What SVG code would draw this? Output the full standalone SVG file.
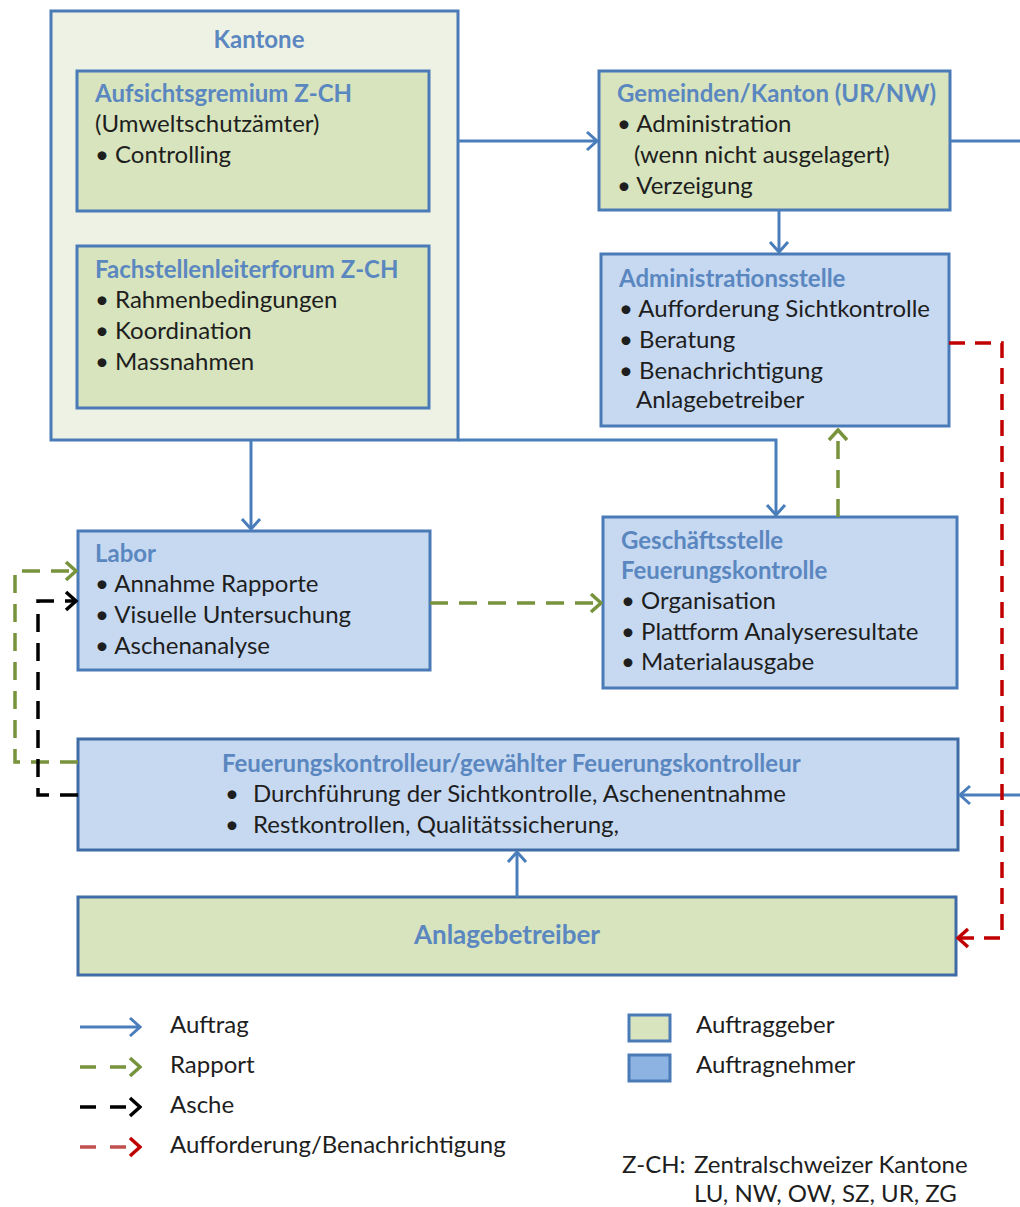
<svg xmlns="http://www.w3.org/2000/svg" width="1020" height="1207" viewBox="0 0 1020 1207">
<style>
.t{font-family:Lato,"Liberation Sans",sans-serif;font-size:24px;fill:#1e1e1e}
.h{font-family:Lato,"Liberation Sans",sans-serif;font-size:24px;font-weight:bold;fill:#5b87c0}
.g{fill:#d7e4bd;stroke:#4a7bb7;stroke-width:3}
.b{fill:#c6d9f1;stroke:#4a7bb7;stroke-width:3}
.blue{fill:none;stroke:#4a7ebb;stroke-width:3}
.green{fill:none;stroke:#77933c;stroke-width:3.5;stroke-dasharray:18 11}
.black{fill:none;stroke:#000;stroke-width:3.5;stroke-dasharray:18 11}
.red{fill:none;stroke:#c00000;stroke-width:3.5;stroke-dasharray:16 10}
</style>
<defs>
<marker id="ab" viewBox="0 0 14 22" refX="12" refY="11" markerWidth="14" markerHeight="22" markerUnits="userSpaceOnUse" orient="auto"><path d="M2,2 L12,11 L2,20" fill="none" stroke="#4a7ebb" stroke-width="3"/></marker>
<marker id="ag" viewBox="0 0 14 22" refX="12" refY="11" markerWidth="14" markerHeight="22" markerUnits="userSpaceOnUse" orient="auto"><path d="M2,2 L12,11 L2,20" fill="none" stroke="#77933c" stroke-width="3.5"/></marker>
<marker id="ak" viewBox="0 0 14 22" refX="12" refY="11" markerWidth="14" markerHeight="22" markerUnits="userSpaceOnUse" orient="auto"><path d="M2,2 L12,11 L2,20" fill="none" stroke="#000" stroke-width="3.5"/></marker>
<marker id="ar" viewBox="0 0 14 22" refX="12" refY="11" markerWidth="14" markerHeight="22" markerUnits="userSpaceOnUse" orient="auto"><path d="M2,2 L12,11 L2,20" fill="none" stroke="#c00000" stroke-width="3.5"/></marker>
</defs>
<rect width="1020" height="1207" fill="#fff"/>

<g id="kantone">
<rect x="51" y="11" width="407" height="429" fill="#eef2e4" stroke="#4a7bb7" stroke-width="3"/>
<text class="h" x="259" y="48" text-anchor="middle">Kantone</text>
</g>
<g id="aufsichtsgremium">
<rect class="g" x="77" y="71" width="352" height="140"/>
<text class="h" x="95" y="102">Aufsichtsgremium Z-CH</text>
<text class="t" x="95" y="132">(Umweltschutzämter)</text>
<text class="t" x="95" y="163">• Controlling</text>
</g>
<g id="fachstellenleiterforum">
<rect class="g" x="77" y="246" width="352" height="162"/>
<text class="h" x="95" y="278">Fachstellenleiterforum Z-CH</text>
<text class="t" x="95" y="308">• Rahmenbedingungen</text>
<text class="t" x="95" y="339">• Koordination</text>
<text class="t" x="95" y="370">• Massnahmen</text>
</g>
<g id="gemeinden">
<rect class="g" x="599" y="71" width="351" height="139"/>
<text class="h" x="617" y="102">Gemeinden/Kanton (UR/NW)</text>
<text class="t" x="617" y="132">• Administration</text>
<text class="t" x="634" y="163">(wenn nicht ausgelagert)</text>
<text class="t" x="617" y="194">• Verzeigung</text>
</g>
<g id="administrationsstelle">
<rect class="b" x="601" y="254" width="348" height="172"/>
<text class="h" x="619" y="287">Administrationsstelle</text>
<text class="t" x="619" y="317">• Aufforderung Sichtkontrolle</text>
<text class="t" x="619" y="348">• Beratung</text>
<text class="t" x="619" y="379">• Benachrichtigung</text>
<text class="t" x="636" y="408">Anlagebetreiber</text>
</g>
<g id="labor">
<rect class="b" x="78" y="531" width="352" height="139"/>
<text class="h" x="95" y="562">Labor</text>
<text class="t" x="95" y="592">• Annahme Rapporte</text>
<text class="t" x="95" y="623">• Visuelle Untersuchung</text>
<text class="t" x="95" y="654">• Aschenanalyse</text>
</g>
<g id="geschaeftsstelle">
<rect class="b" x="603" y="517" width="354" height="171"/>
<text class="h" x="621" y="549">Geschäftsstelle</text>
<text class="h" x="621" y="579">Feuerungskontrolle</text>
<text class="t" x="621" y="609">• Organisation</text>
<text class="t" x="621" y="640">• Plattform Analyseresultate</text>
<text class="t" x="621" y="670">• Materialausgabe</text>
</g>
<g id="feuerungskontrolleur">
<rect class="b" x="78" y="739" width="880" height="111" style="stroke:#3f6ca6"/>
<text class="h" x="222" y="772">Feuerungskontrolleur/gewählter Feuerungskontrolleur</text>
<text class="t" x="225" y="802">•</text>
<text class="t" x="253" y="802">Durchführung der Sichtkontrolle, Aschenentnahme</text>
<text class="t" x="225" y="833">•</text>
<text class="t" x="253" y="833">Restkontrollen, Qualitätssicherung,</text>
</g>
<g id="anlagebetreiber">
<rect class="g" x="78" y="897" width="878" height="78" style="stroke:#3f6ca6"/>
<text class="h" x="507" y="944" text-anchor="middle" style="font-size:26px">Anlagebetreiber</text>
</g>

<g id="connectors">
<path class="blue" d="M458,141 H597" marker-end="url(#ab)"/>
<path class="blue" d="M950,141 H1022 M1022,795 H960" marker-end="url(#ab)"/>
<path class="blue" d="M779,210 V252" marker-end="url(#ab)"/>
<path class="blue" d="M458,440 H776 V515" marker-end="url(#ab)"/>
<path class="blue" d="M251,440 V529" marker-end="url(#ab)"/>
<path class="blue" d="M517,897 V852" marker-end="url(#ab)"/>
<path class="green" d="M430,603 H601" marker-end="url(#ag)"/>
<path class="green" d="M838,517 V430" marker-end="url(#ag)"/>
<path class="green" d="M78,762 H15 V571 H76" marker-end="url(#ag)"/>
<path class="black" d="M78,795 H38 V601 H76" marker-end="url(#ak)"/>
<path class="red" d="M949,343 H1002 V938 H958" marker-end="url(#ar)"/>
</g>

<g id="legend">
<path class="blue" d="M80,1027 H140" marker-end="url(#ab)"/>
<text class="t" x="170" y="1033">Auftrag</text>
<path class="green" d="M80,1067 H140" style="stroke-dasharray:16 14" marker-end="url(#ag)"/>
<text class="t" x="170" y="1073">Rapport</text>
<path class="black" d="M80,1107 H140" style="stroke-dasharray:16 14" marker-end="url(#ak)"/>
<text class="t" x="170" y="1113">Asche</text>
<path class="red" d="M80,1147 H140" style="stroke-dasharray:16 14;stroke:#c0504d" marker-end="url(#ar)"/>
<text class="t" x="170" y="1153">Aufforderung/Benachrichtigung</text>
<rect x="629" y="1015" width="41" height="26" fill="#d7e4bd" stroke="#4a7bb7" stroke-width="3"/>
<text class="t" x="696" y="1033">Auftraggeber</text>
<rect x="629" y="1055" width="41" height="26" fill="#8db3e2" stroke="#4a7bb7" stroke-width="3"/>
<text class="t" x="696" y="1073">Auftragnehmer</text>
<text class="t" x="622" y="1173">Z-CH:</text>
<text class="t" x="694" y="1173">Zentralschweizer Kantone</text>
<text class="t" x="694" y="1202">LU, NW, OW, SZ, UR, ZG</text>
</g>
</svg>
